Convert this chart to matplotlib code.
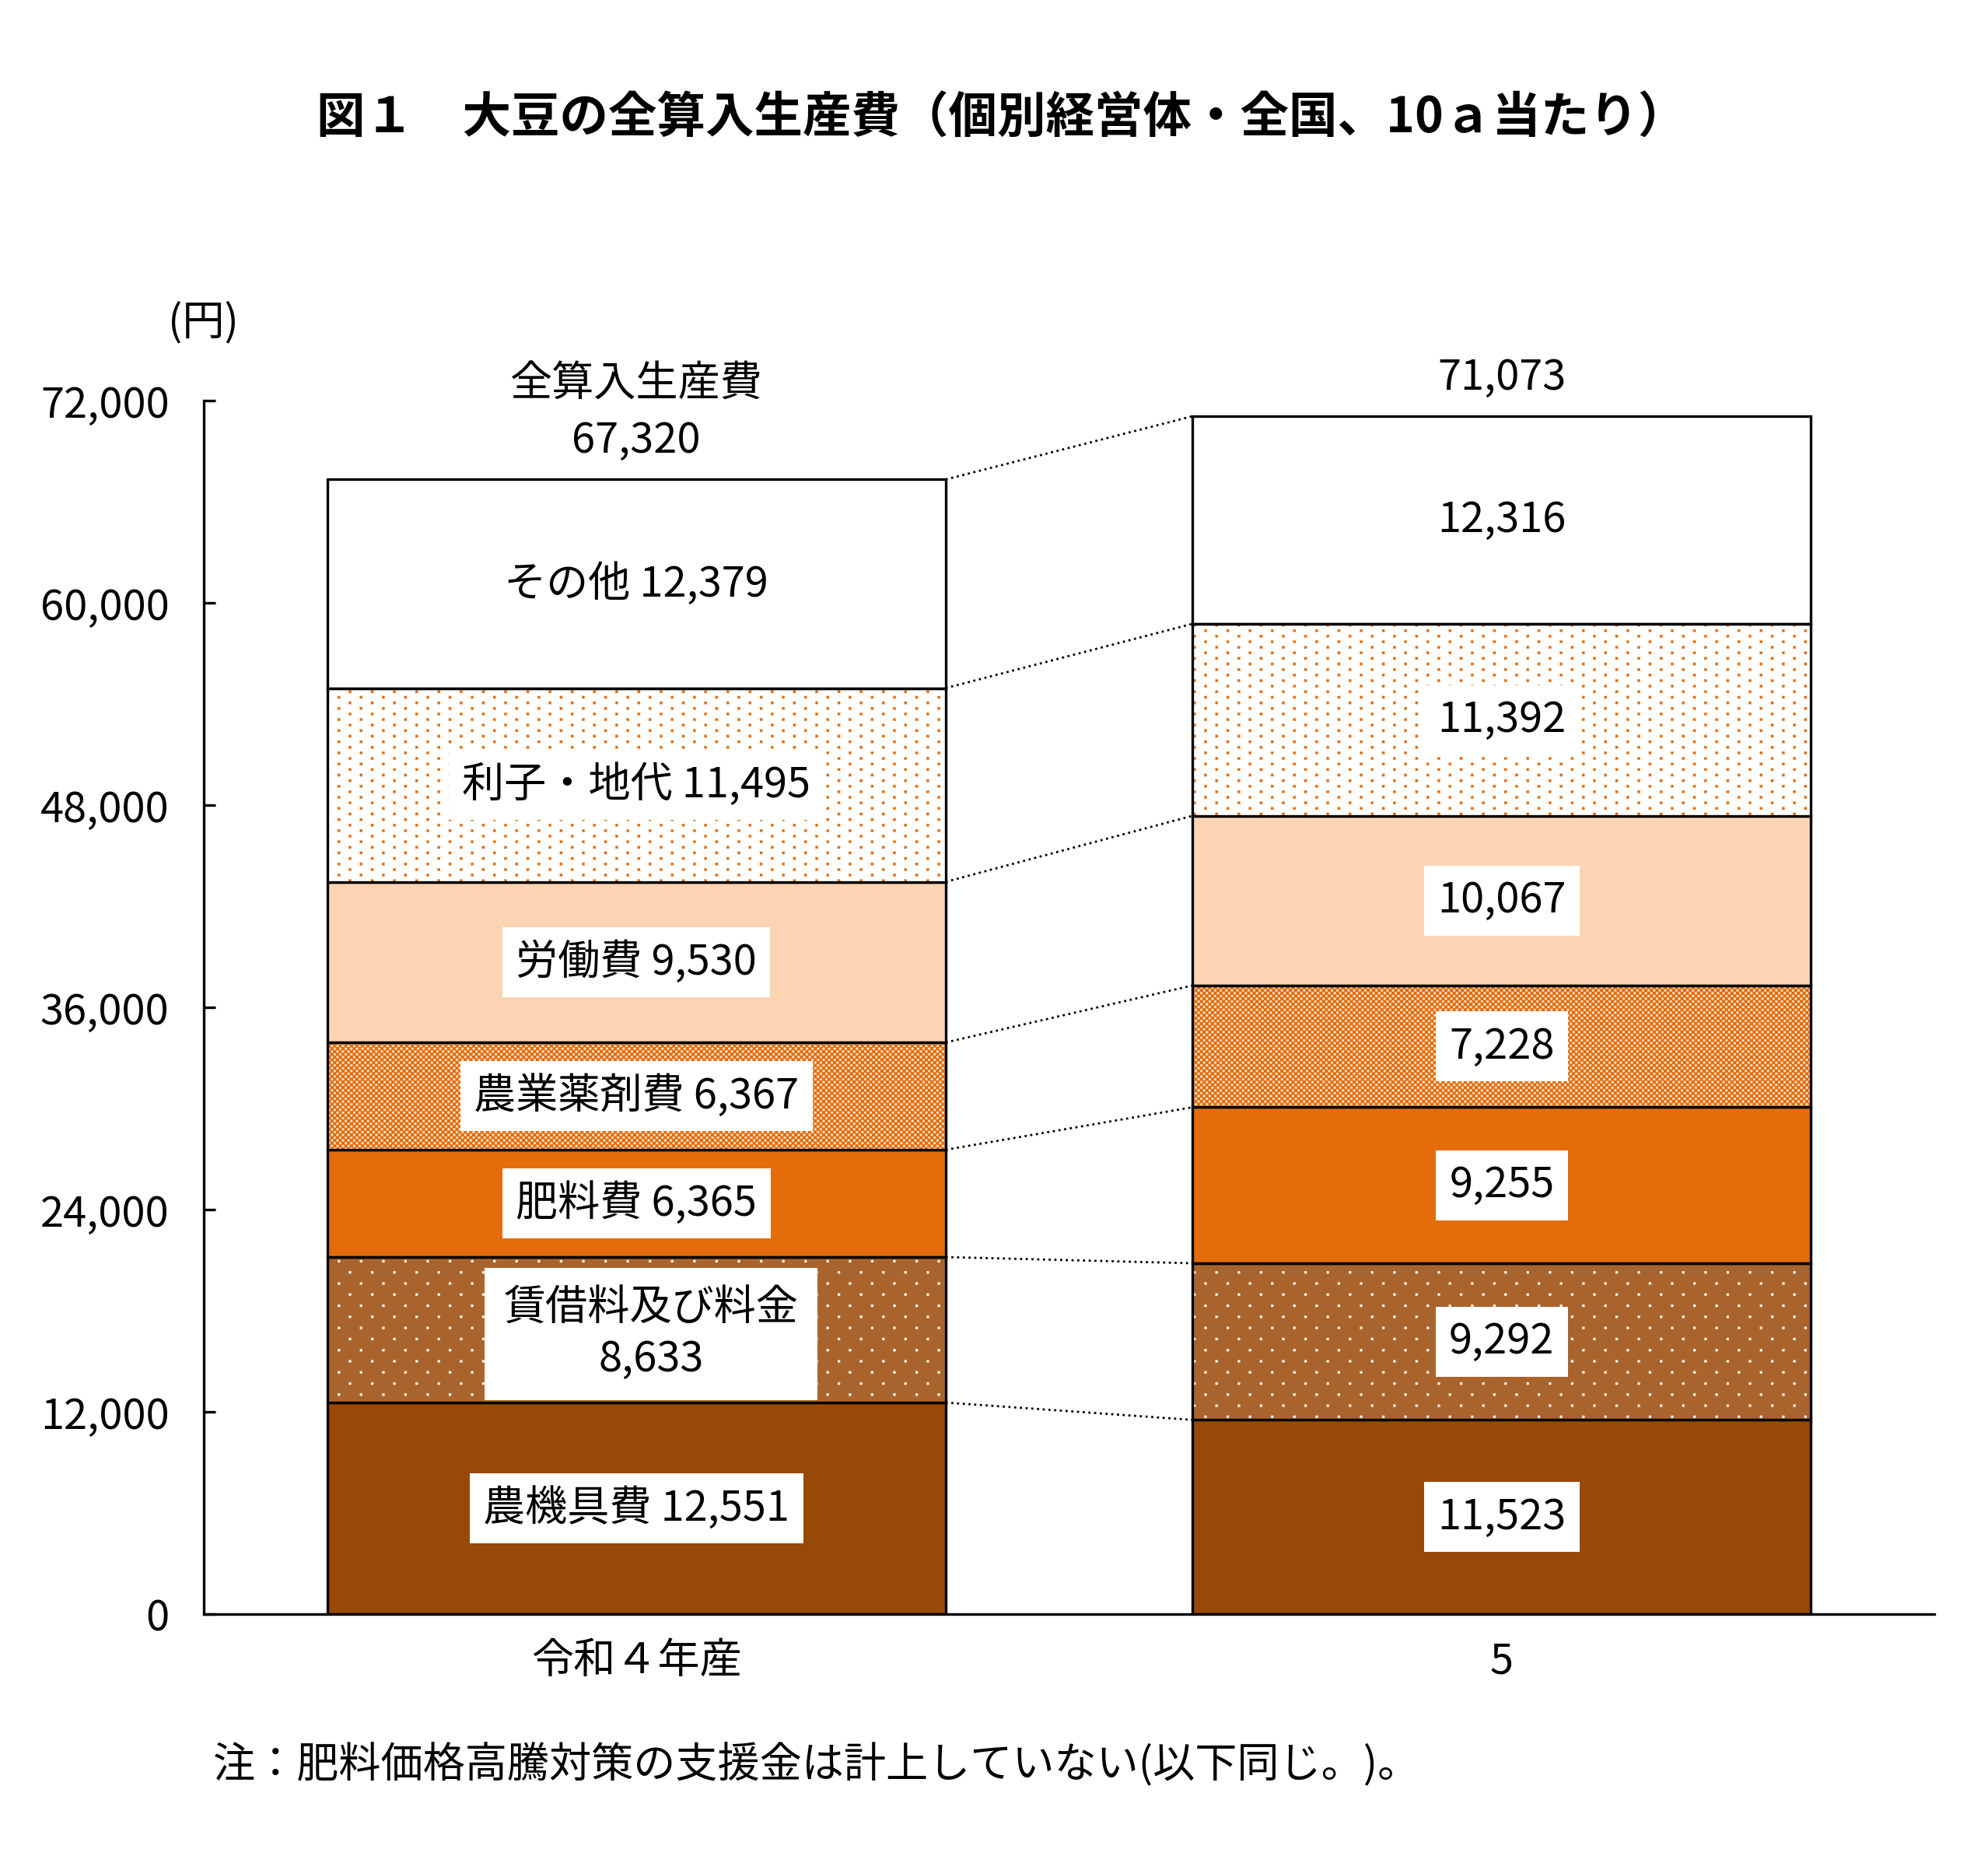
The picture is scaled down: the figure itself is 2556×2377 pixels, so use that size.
import matplotlib
matplotlib.use("Agg")
import matplotlib.pyplot as plt
import matplotlib.hatch as mhatch
from matplotlib.path import Path
import numpy as np

# ---------------- data ----------------
categories = ["令和４年産", "5"]
items = ["農機具費", "賃借料及び料金", "肥料費", "農業薬剤費", "労働費", "利子・地代", "その他"]
values_r4 = [12551, 8633, 6365, 6367, 9530, 11495, 12379]
values_r5 = [11523, 9292, 9255, 7228, 10067, 11392, 12316]
totals = [67320, 71073]
ytick_values = [0, 12000, 24000, 36000, 48000, 60000, 72000]
title = "図１　大豆の全算入生産費（個別経営体・全国、10ａ当たり）"
unit_label = "(円)"
total_label = "全算入生産費"
note = "注：肥料価格高騰対策の支援金は計上していない(以下同じ。)。"

# ---------------- styles ----------------
ORANGE = "#E46C0A"
PEACH = "#FBD4B4"
DARKBROWN = "#984807"
MIDBROWN = "#A8642C"
LIGHT = "#FDE9D9"
faces = [DARKBROWN, MIDBROWN, ORANGE, ORANGE, PEACH, "white", "white"]
hatch_colors = [None, "#FFF2E6", None, LIGHT, None, ORANGE, None]
hatches = [None, "*", None, "O", None, "**", None]

plt.rcParams["font.family"] = ["Noto Sans CJK JP", "DejaVu Sans"]
plt.rcParams["hatch.linewidth"] = 0.1


# ---------------- custom hatch patterns (square dots like the original) ----------------
class _SquareGrid(mhatch.HatchPatternBase):
    char = "*"

    def config(self, n):
        return None

    def __init__(self, hatch, density):
        n = hatch.count(self.char) if hatch else 0
        cfg = self.config(n) if n else None
        if cfg is None:
            self.num_vertices = 0
            return
        self.nx, self.ny, self.size = cfg
        self.num_vertices = self.nx * self.ny * 5

    def set_vertices_and_codes(self, vertices, codes):
        s = self.size / 2.0
        k = 0
        for r in range(self.ny):
            yc = (r + 0.5) / self.ny
            off = 0.25 if r % 2 == 0 else 0.75
            for c in range(self.nx):
                xc = (c + off) / self.nx
                vertices[k:k + 5] = [(xc - s, yc - s), (xc + s, yc - s),
                                     (xc + s, yc + s), (xc - s, yc + s),
                                     (xc - s, yc - s)]
                codes[k:k + 5] = [Path.MOVETO, Path.LINETO, Path.LINETO,
                                  Path.LINETO, Path.CLOSEPOLY]
                k += 5


class SparseDenseDots(_SquareGrid):
    char = "*"

    def config(self, n):
        if n == 1:
            return (7, 14, 0.015)
        return (7, 28, 0.016)


class Checker(_SquareGrid):
    char = "O"

    def config(self, n):
        return (28, 56, 0.013)


mhatch._hatch_types = [t for t in mhatch._hatch_types
                       if t.__name__ not in ("Stars", "LargeCircles")]
mhatch._hatch_types += [SparseDenseDots, Checker]

# ---------------- figure ----------------
W, H, DPI = 2556, 2377, 200
fig = plt.figure(figsize=(W / DPI, H / DPI), dpi=DPI)
ax = fig.add_axes([262 / W, (H - 2075) / H, (2487 - 262) / W, (2075 - 515) / H])
ax.set_xlim(-0.5, 1.5)
ax.set_ylim(0, 72000)

bar_w = 0.7146
xpos = np.arange(len(categories))
series = [values_r4, values_r5]
cums = [np.concatenate([[0], np.cumsum(v)]) for v in series]

for i in range(len(items)):
    bottoms = [cums[0][i], cums[1][i]]
    vals = [values_r4[i], values_r5[i]]
    if hatches[i]:
        ax.bar(xpos, vals, bottom=bottoms, width=bar_w, color=faces[i],
               edgecolor=hatch_colors[i], hatch=hatches[i], linewidth=0, zorder=2)
        ax.bar(xpos, vals, bottom=bottoms, width=bar_w, fill=False,
               edgecolor="black", linewidth=1.2, zorder=2.1)
    else:
        ax.bar(xpos, vals, bottom=bottoms, width=bar_w, color=faces[i],
               edgecolor="black", linewidth=1.2, zorder=2)

# dotted connector lines
for i in range(1, len(items) + 1):
    ax.plot([xpos[0] + bar_w / 2, xpos[1] - bar_w / 2], [cums[0][i], cums[1][i]],
            ls=":", color="black", lw=1.0, zorder=1.5)

FS = 19.5
box = dict(boxstyle="square,pad=0.32", fc="white", ec="none")

# labels on left bar
for i, name in enumerate(items):
    yc = cums[0][i] + values_r4[i] / 2
    if name == "賃借料及び料金":
        ax.text(xpos[0] + 0.017, yc - 250, f"{name}\n{values_r4[i]:,}", ha="center",
                va="center", fontsize=FS, bbox=dict(boxstyle="square,pad=0.45",
                                                    fc="white", ec="none"),
                linespacing=1.25, zorder=3)
    else:
        ax.text(xpos[0], yc, f"{name} {values_r4[i]:,}", ha="center", va="center",
                fontsize=FS, bbox=box, zorder=3)

# labels on right bar
for i, name in enumerate(items):
    yc = cums[1][i] + values_r5[i] / 2
    ax.text(xpos[1], yc, f"{values_r5[i]:,}", ha="center", va="center",
            fontsize=FS, bbox=box, zorder=3)

# totals
ax.annotate(f"{totals[0]:,}", xy=(xpos[0], totals[0]), xytext=(0, 18),
            textcoords="offset points", ha="center", va="center", fontsize=FS)
ax.annotate(total_label, xy=(xpos[0], totals[0]), xytext=(0, 44),
            textcoords="offset points", ha="center", va="center", fontsize=FS)
ax.annotate(f"{totals[1]:,}", xy=(xpos[1], totals[1]), xytext=(0, 18),
            textcoords="offset points", ha="center", va="center", fontsize=FS)

# axes styling
for side in ("top", "right"):
    ax.spines[side].set_visible(False)
for side in ("left", "bottom"):
    ax.spines[side].set_linewidth(1.2)
    ax.spines[side].set_color("black")
ax.set_yticks(ytick_values)
ax.set_yticklabels([f"{v:,}" for v in ytick_values])
ax.tick_params(axis="y", direction="in", length=5.4, width=1.2, pad=16, labelsize=FS)
ax.set_xticks(xpos)
ax.set_xticklabels(categories)
ax.tick_params(axis="x", length=0, pad=12, labelsize=FS)

fig.text(261 / W, 1 - 415 / H, unit_label, ha="center", va="center", fontsize=FS)
fig.text(1288 / W, 1 - 152 / H, title, ha="center", va="center", fontsize=22.5,
         fontweight="bold")
fig.text(274 / W, 1 - 2269 / H, note, ha="left", va="center", fontsize=FS)

fig.savefig("out.png", dpi=DPI, facecolor="white")
